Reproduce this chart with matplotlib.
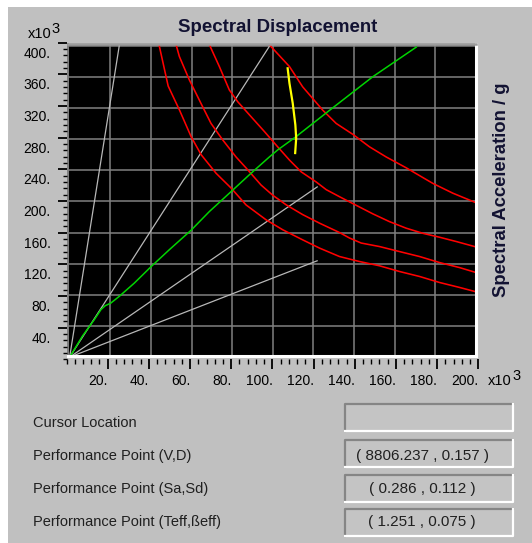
import matplotlib
matplotlib.use('Agg')
import matplotlib.pyplot as plt
import matplotlib.transforms as mtransforms
from matplotlib.patches import Rectangle
from matplotlib.lines import Line2D
from matplotlib.ticker import MultipleLocator

plt.rcParams['font.family'] = ['Liberation Sans', 'DejaVu Sans']

# ---------------- data ----------------
x_ticks = [20, 40, 60, 80, 100, 120, 140, 160, 180, 200]
x_tick_labels = ['20.', '40.', '60.', '80.', '100.', '120.', '140.', '160.', '180.', '200.']
y_ticks = [40, 80, 120, 160, 200, 240, 280, 320, 360, 400]
y_tick_labels = ['40.', '80.', '120.', '160.', '200.', '240.', '280.', '320.', '360.', '400.']

# constant-period radial lines (start at origin)
period_end_x = [24.5, 98.8, 122.1, 122.1]
period_end_y = [401, 401, 219, 124]

# capacity curve (green)
capacity_x = [0, 6.3, 12.1, 15.4, 17.5, 20.3, 24.4, 31.8, 40, 49.1, 59.8, 68.8, 79.5,
              88.4, 98.3, 102.4, 111.4, 127, 149.2, 170.6]
capacity_y = [0, 27, 48, 61, 66, 69.5, 78, 95, 116, 138, 163, 187, 212.6,
              234, 257, 266, 283, 315, 360, 398]

# demand spectra (red)
d1_x = [44, 48.5, 54.1, 59.8, 64.7, 72.1, 79.5, 86.8, 96.7, 104.9, 114.7, 123, 132.8,
        142.6, 152.5, 162.3, 172.2, 182, 191.9, 199.3, 201]
d1_y = [401, 348, 317, 283, 260, 236, 217, 195.5, 176.3, 163.5, 150.6, 140, 129.2,
        122.8, 117.3, 110, 103.6, 95.9, 89.5, 84.4, 83.5]
d2_x = [52.4, 54, 58.9, 64.6, 69.6, 75.3, 81.9, 86.8, 94.2, 99.9, 106.6, 114.7, 123,
        132.8, 137.7, 143.5, 152.5, 162.3, 172.2, 182, 191.9, 199.3, 201]
d2_y = [401, 386, 356, 326, 300, 279, 257, 243, 221, 208, 195.5, 183, 172,
        160, 153, 146.5, 142, 135.6, 129.2, 121.5, 115, 109.2, 108]
d3_x = [68.8, 73.7, 78.6, 82.7, 88.5, 95.9, 102.4, 108.2, 113.9, 121.3, 126.3, 132.8,
        141, 149.2, 157.4, 165.6, 173.8, 182, 190.2, 199.3, 201]
d3_y = [401, 373, 343, 328, 311, 289.5, 270, 253, 238, 225, 215, 206,
        195, 184, 174, 165.6, 159, 154, 148.5, 142, 141]
d4_x = [98.3, 108.2, 114.7, 124.6, 131.2, 139.4, 147.6, 155.8, 165.7, 178.8, 188.6, 199.3, 201]
d4_y = [401, 373, 347, 317, 300, 286, 270, 257, 243, 223, 210.5, 199, 197]

# single demand (yellow)
single_x = [107.3, 108.2, 109.8, 111.1, 111.5, 111.0]
single_y = [370.8, 351.5, 326, 298, 281, 262]

info_labels = ['Cursor Location', 'Performance Point (V,D)',
               'Performance Point (Sa,Sd)', 'Performance Point (Teff,\u00dfeff)']
info_values = ['', '( 8806.237 , 0.157 )', '( 0.286 , 0.112 )', '( 1.251 , 0.075 )']

# ---------------- layout helpers ----------------
W, H = 532, 543
fig = plt.figure(figsize=(W / 100, H / 100), dpi=100, facecolor='white')


def rect(x0, y0, x1, y1):
    return [x0 / W, 1 - y1 / H, (x1 - x0) / W, (y1 - y0) / H]


def fx(px):
    return px / W


def fy(py):
    return 1 - py / H


# grey window panel
fig.add_artist(Rectangle((fx(8), 0), 1 - fx(8), fy(7), transform=fig.transFigure,
                         facecolor='#c0c0c0', edgecolor='none', zorder=-5))

# ---------------- plot area ----------------
ax = fig.add_axes(rect(68, 44, 476, 356))
ax.set_facecolor('black')
ax.set_xlim(-0.8, 200)
ax.set_ylim(1.5, 402)
ax.set_xticks(x_ticks)
ax.set_yticks(y_ticks)
ax.tick_params(length=0, labelbottom=False, labelleft=False)
ax.grid(True, color='#808080', linewidth=1.1)
ax.set_axisbelow(True)
ax.spines['top'].set_color('#9c9c9c')
ax.spines['top'].set_linewidth(1.8)
ax.spines['left'].set_color('#808080')
ax.spines['left'].set_linewidth(1.4)
ax.spines['right'].set_color('white')
ax.spines['right'].set_linewidth(2.2)
ax.spines['bottom'].set_color('white')
ax.spines['bottom'].set_linewidth(2.2)

for ex, ey in zip(period_end_x, period_end_y):
    ax.plot([0, ex], [0, ey], color='#b8b8b8', lw=0.9, solid_capstyle='butt')
for cx, cy in [(d1_x, d1_y), (d2_x, d2_y), (d3_x, d3_y), (d4_x, d4_y)]:
    ax.plot(cx, cy, color='#ff0000', lw=1.15)
ax.plot(capacity_x, capacity_y, color='#00d400', lw=1.1)
ax.plot(single_x, single_y, color='#ffff00', lw=1.6)

# ---------------- tick scale (slightly offset, as in the original) ----------------
axt = fig.add_axes(rect(66.5, 42.7, 478.3, 359.4))
axt.patch.set_visible(False)
for s in axt.spines.values():
    s.set_visible(False)
axt.set_xlim(0, 200)
axt.set_ylim(0, 400)
axt.set_xticks(x_ticks, x_tick_labels)
axt.set_yticks(y_ticks, y_tick_labels)
axt.xaxis.set_minor_locator(MultipleLocator(4))
axt.yaxis.set_minor_locator(MultipleLocator(8))
axt.tick_params(axis='x', which='major', direction='out', length=7.2, width=1.3,
                pad=3.4, labelsize=10, colors='black')
axt.tick_params(axis='x', which='minor', direction='out', length=3.6, width=1.0, colors='black')
axt.tick_params(axis='y', which='major', direction='out', length=6.5, width=1.3,
                pad=5, labelsize=10, colors='black')
axt.tick_params(axis='y', which='minor', direction='out', length=3.0, width=1.0, colors='black')
for lbl in axt.get_xticklabels():
    lbl.set_horizontalalignment('right')
yoff = mtransforms.ScaledTranslation(0, -4 / 100, fig.dpi_scale_trans)
for lbl in axt.get_yticklabels():
    lbl.set_verticalalignment('top')
    lbl.set_transform(lbl.get_transform() + yoff)

# ---------------- texts ----------------
title_color = '#121232'
fig.text(fx(278), fy(31.7), 'Spectral Displacement', ha='center', va='baseline',
         fontsize=13.4, fontweight='bold', color=title_color)
fig.text(fx(502), fy(189.5), 'Spectral Acceleration / g', ha='center', va='center',
         rotation=90, fontsize=13.3, fontweight='bold', color=title_color)
fig.text(fx(28), fy(38), 'x10', ha='left', va='baseline', fontsize=10.5, color='black')
fig.text(fx(51.5), fy(33), '3', ha='left', va='baseline', fontsize=10.5, color='black')
fig.text(fx(487.5), fy(385), 'x10', ha='left', va='baseline', fontsize=10.5, color='black')
fig.text(fx(512), fy(380), '3', ha='left', va='baseline', fontsize=10.5, color='black')

# ---------------- info panel ----------------
baselines = [426.7, 459.6, 493.5, 525.8]
box_tops = [404.3, 439.5, 474.5, 508.6]
box_h = 27
bx0, bx1 = 345, 512.5
for lab, val, bl, bt in zip(info_labels, info_values, baselines, box_tops):
    fig.text(fx(33), fy(bl), lab, ha='left', va='baseline', fontsize=10.5, color='#202020')
    bb = bt + box_h
    fig.add_artist(Rectangle((fx(bx0), fy(bb)), fx(bx1) - fx(bx0), fy(bt) - fy(bb),
                             transform=fig.transFigure, facecolor='#c4c4c4',
                             edgecolor='none', zorder=1))
    fig.add_artist(Line2D([fx(bx0), fx(bx0), fx(bx1)], [fy(bb), fy(bt), fy(bt)],
                          transform=fig.transFigure, color='#858585', lw=1.6, zorder=2))
    fig.add_artist(Line2D([fx(bx0), fx(bx1), fx(bx1)], [fy(bb), fy(bb), fy(bt)],
                          transform=fig.transFigure, color='white', lw=1.6, zorder=2))
    if val:
        fig.text(fx(422), fy(bl), val, ha='center', va='baseline', fontsize=11,
                 color='#202020', zorder=3)

fig.savefig('out.png', dpi=100, facecolor=fig.get_facecolor())
